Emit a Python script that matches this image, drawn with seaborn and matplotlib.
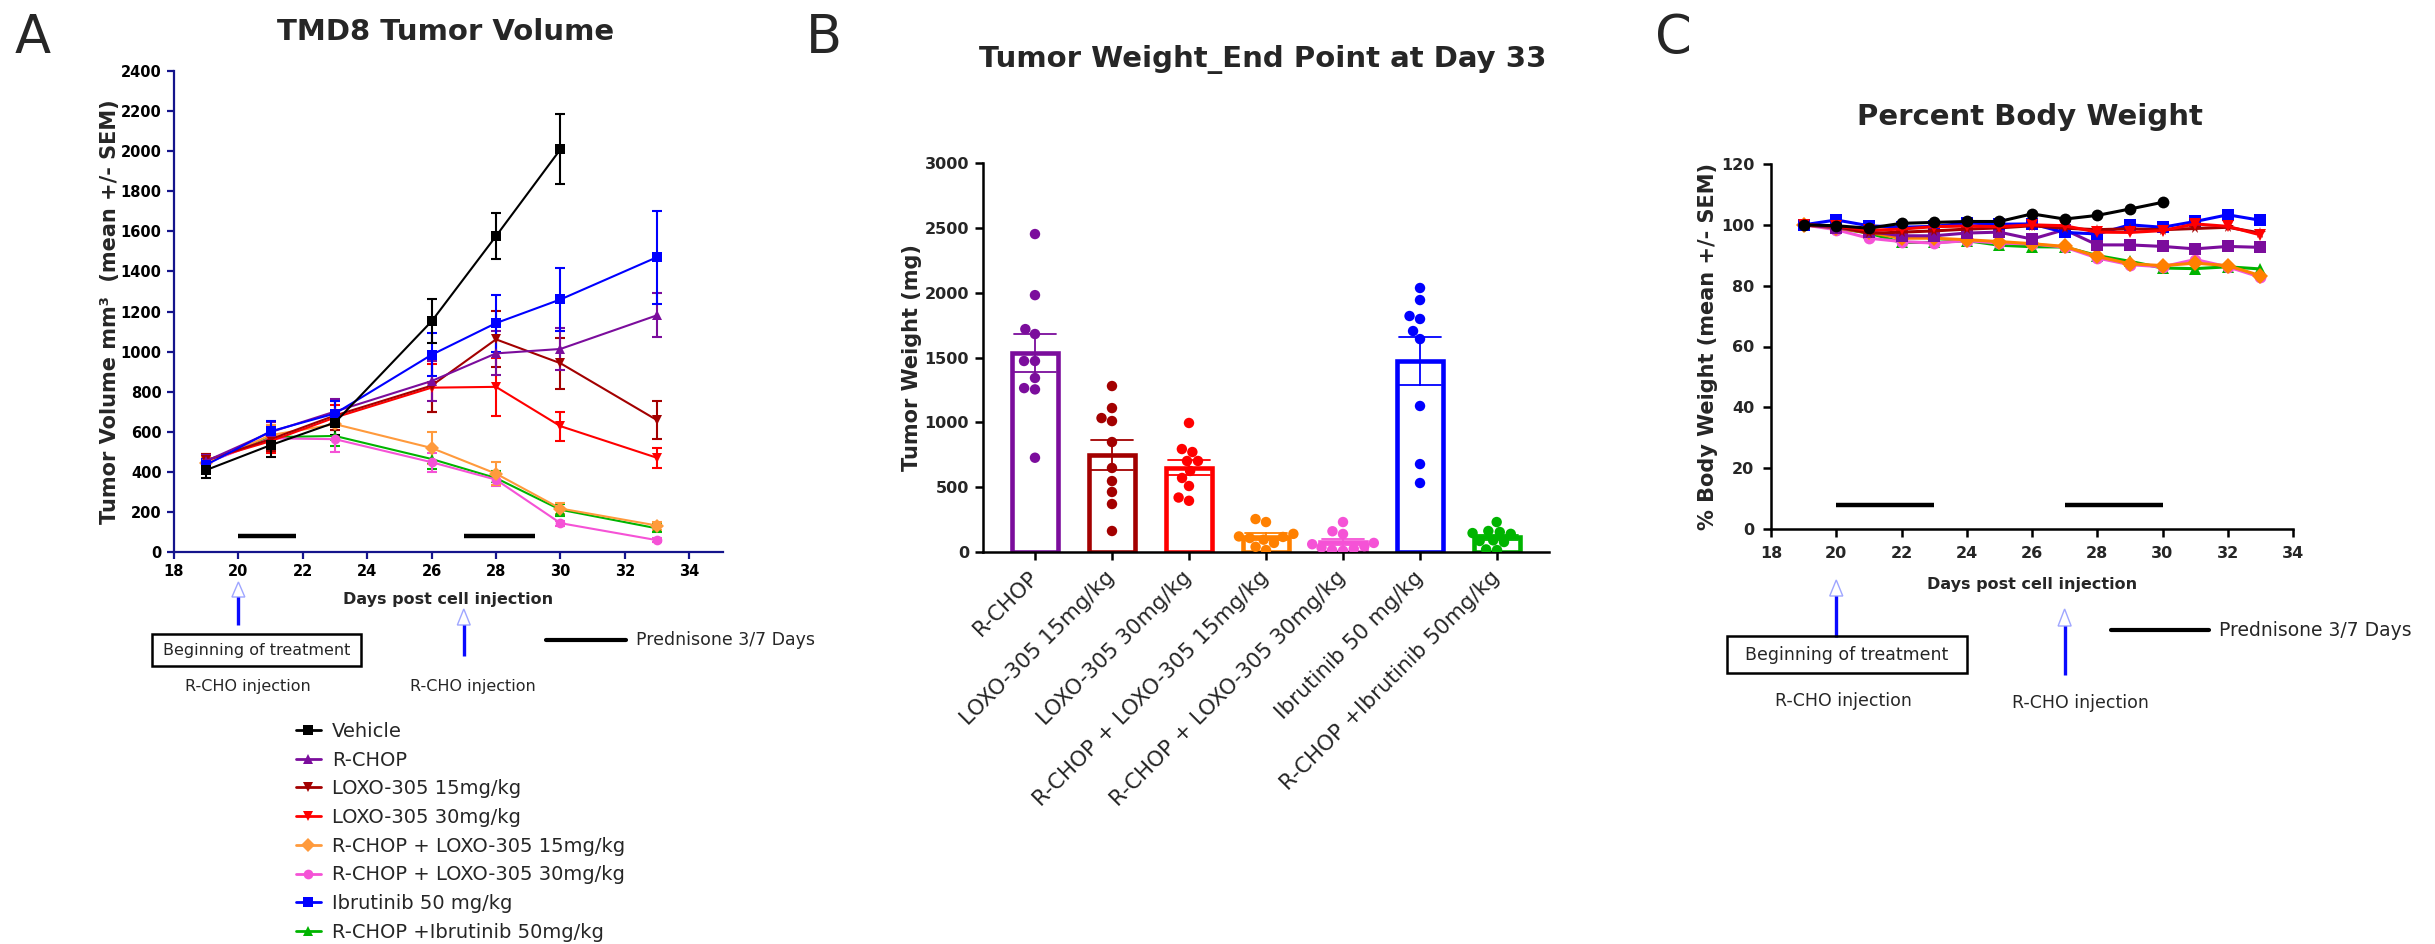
import numpy as np
import pandas as pd
import matplotlib
matplotlib.use("Agg")
import matplotlib.pyplot as plt
import matplotlib.transforms as mtransforms
from matplotlib.lines import Line2D
from matplotlib.patches import Rectangle
import seaborn as sns

W, H = 2435, 944

# group names
vehicle = "Vehicle"
rchop = "R-CHOP"
loxo15 = "LOXO-305 15mg/kg"
loxo30 = "LOXO-305 30mg/kg"
rl15 = "R-CHOP + LOXO-305 15mg/kg"
rl30 = "R-CHOP + LOXO-305 30mg/kg"
ibr = "Ibrutinib 50 mg/kg"
ribr = "R-CHOP +Ibrutinib 50mg/kg"

# ---- A: tumour volume, mean and SEM ----
days_a = [19, 21, 23, 26, 28, 30, 33]
vol_vehicle = [409, 533, 646, 1151, 1576, 2009]
sem_vehicle = [40, 60, 60, 110, 115, 175]
vol_rchop = [454, 598, 701, 853, 991, 1013, 1181]
sem_rchop = [30, 50, 60, 100, 110, 107, 109]
vol_loxo15 = [458, 563, 681, 830, 1061, 942, 658]
sem_loxo15 = [30, 60, 70, 130, 140, 128, 93]
vol_loxo30 = [458, 553, 671, 820, 824, 628, 470]
sem_loxo30 = [30, 60, 60, 120, 143, 73, 50]
vol_rl15 = [444, 583, 638, 519, 391, 217, 132]
sem_rl15 = [30, 50, 60, 80, 57, 25, 20]
vol_rl30 = [444, 567, 563, 448, 361, 144, 59]
sem_rl30 = [30, 50, 65, 47, 30, 12, 10]
vol_ibr = [435, 602, 691, 984, 1142, 1260, 1471]
sem_ibr = [30, 50, 60, 107, 142, 158, 232]
vol_ribr = [444, 573, 579, 464, 369, 211, 118]
sem_ribr = [30, 50, 50, 50, 35, 30, 20]

# prednisone bars (days) drawn inside A and C
pred_a = [(20, 21.8), (27, 29.2)]
pred_a_level = 80
pred_c = [(20, 23), (27, 30)]
pred_c_level = 8

# ---- B: tumour weight at day 33 (individual mice) ----
mg_rchop = [2452, 1981, 1719, 1681, 1473, 1473, 1342, 1264, 1254, 727]
mg_loxo15 = [1280, 1110, 1033, 1010, 848, 648, 547, 463, 370, 162]
mg_loxo30 = [995, 794, 771, 702, 702, 625, 571, 509, 420, 395]
mg_rl15 = [254, 231, 140, 120, 116, 108, 95, 70, 40, 15]
mg_rl30 = [231, 160, 139, 70, 60, 45, 35, 25, 15, 10]
mg_ibr = [2036, 1943, 1820, 1797, 1704, 1642, 1126, 678, 532]
mg_ribr = [231, 162, 154, 146, 140, 90, 85, 77, 20, 15]

# ---- C: percent body weight ----
days_c = list(range(19, 34))
bw_vehicle = [100, 99.7, 98.9, 100.5, 100.8, 101.1, 101.1, 103.6, 101.9, 103.1, 105.2, 107.4]
bw_ibr = [100, 101.6, 99.7, 99.2, 99.5, 100.6, 100.2, 100.3, 97.5, 97.0, 100.0, 99.2, 101.1, 103.3, 101.5]
bw_rchop = [100, 99.0, 97.8, 96.4, 96.4, 97.3, 97.6, 95.3, 98.4, 93.4, 93.4, 92.9, 92.1, 92.9, 92.6]
bw_loxo15 = [100, 99.5, 97.2, 97.6, 98.0, 98.6, 99.0, 99.7, 98.9, 98.4, 98.7, 98.4, 98.8, 99.2, 97.3]
bw_loxo30 = [100, 99.6, 98.2, 98.6, 99.4, 99.6, 99.4, 100.0, 99.7, 97.6, 97.5, 98.1, 100.3, 99.5, 96.7]
bw_rl15 = [100, 98.9, 97.5, 95.6, 95.6, 95.1, 94.5, 93.8, 92.9, 89.6, 87.2, 86.6, 87.4, 86.6, 83.3]
bw_rl30 = [100, 98.4, 95.6, 94.5, 94.0, 94.8, 94.0, 93.7, 92.7, 89.1, 86.9, 86.2, 88.6, 86.2, 82.8]
bw_ribr = [100, 98.9, 97.3, 94.2, 94.2, 94.8, 93.3, 92.8, 92.7, 89.9, 88.0, 85.8, 85.6, 86.2, 85.5]

colors = {vehicle: "#000000", rchop: "#7b0d9c", loxo15: "#a30000", loxo30: "#ff0000",
          rl15: "#ff8000", rl30: "#f552d6", ibr: "#0000ff", ribr: "#00b400"}
colors_a = dict(colors)
colors_a[rl15] = "#ff9a3c"
markers_a = {vehicle: "s", rchop: "^", loxo15: "v", loxo30: "v",
             rl15: "D", rl30: "o", ibr: "s", ribr: "^"}
markers_c = {vehicle: "o", rchop: "s", loxo15: "*", loxo30: "v",
             rl15: "D", rl30: "o", ibr: "s", ribr: "^"}

legend_order = [vehicle, rchop, loxo15, loxo30, rl15, rl30, ibr, ribr]
draw_a = [ribr, rl30, rl15, loxo30, loxo15, rchop, ibr, vehicle]
draw_c = [ribr, rl30, rl15, rchop, ibr, loxo15, loxo30, vehicle]

vol = {vehicle: (vol_vehicle, sem_vehicle), rchop: (vol_rchop, sem_rchop),
       loxo15: (vol_loxo15, sem_loxo15), loxo30: (vol_loxo30, sem_loxo30),
       rl15: (vol_rl15, sem_rl15), rl30: (vol_rl30, sem_rl30),
       ibr: (vol_ibr, sem_ibr), ribr: (vol_ribr, sem_ribr)}
weights = {rchop: mg_rchop, loxo15: mg_loxo15, loxo30: mg_loxo30, rl15: mg_rl15,
           rl30: mg_rl30, ibr: mg_ibr, ribr: mg_ribr}
bw = {vehicle: bw_vehicle, rchop: bw_rchop, loxo15: bw_loxo15, loxo30: bw_loxo30,
      rl15: bw_rl15, rl30: bw_rl30, ibr: bw_ibr, ribr: bw_ribr}
groups_b = [rchop, loxo15, loxo30, rl15, rl30, ibr, ribr]

rows = []
for g, (v, s) in vol.items():
    for d, vv, ss in zip(days_a, v, s):
        rows.append((g, d, vv, ss))
df_a = pd.DataFrame(rows, columns=["group", "day", "vol", "sem"])
df_b = pd.DataFrame([(g, m) for g in groups_b for m in weights[g]], columns=["group", "mg"])
df_c = pd.DataFrame([(g, d, p) for g, vals in bw.items() for d, p in zip(days_c, vals)],
                    columns=["group", "day", "pct"])

sns.set_style("ticks")
plt.rcParams["font.family"] = ["DejaVu Sans"]

fig = plt.figure(figsize=(W / 100, H / 100), dpi=100)


def fx(px):
    return px / W


def fy(py):
    return 1 - py / H


def bold_ticks(ax, size):
    for lab in ax.get_xticklabels() + ax.get_yticklabels():
        lab.set_fontweight("bold")
        lab.set_fontsize(size)


navy = "#14148c"

# ---------------- A ----------------
axA = fig.add_axes([fx(174), fy(552), fx(723) - fx(174), fy(71) - fy(552)])
for g in draw_a:
    v, s = vol[g]
    axA.errorbar(days_a[:len(v)], v, yerr=s, fmt="none", ecolor=colors_a[g],
                 elinewidth=1.5, capsize=3.5, capthick=1.5, zorder=2)
sns.lineplot(data=df_a, x="day", y="vol", hue="group", style="group",
             hue_order=draw_a, style_order=draw_a, palette=colors_a, markers=markers_a,
             dashes=False, markersize=7, markeredgewidth=0, linewidth=1.5,
             errorbar=None, legend=False, ax=axA, zorder=3)
for a, b in pred_a:
    axA.plot([a, b], [pred_a_level] * 2, color="black", lw=3.2, solid_capstyle="butt")
axA.set_xlim(18, 35.05)
axA.set_ylim(0, 2400)
axA.set_xticks(range(18, 35, 2))
axA.set_yticks(range(0, 2401, 200))
sns.despine(ax=axA)
for sp in ["left", "bottom"]:
    axA.spines[sp].set_color(navy)
    axA.spines[sp].set_linewidth(1.6)
axA.tick_params(color=navy, labelcolor="black", width=1.6, length=5, pad=4)
bold_ticks(axA, 10.5)
axA.set_xlabel("Days post cell injection", fontsize=11.5, fontweight="bold")
axA.xaxis.set_label_coords(0.5, -0.098)
axA.xaxis.label.set_va("center")
axA.set_ylabel("Tumor Volume mm³  (mean +/- SEM)", fontsize=15, fontweight="bold")
axA.yaxis.set_label_coords(-0.117, 0.5)
axA.yaxis.label.set_va("center")

handles = [Line2D([], [], color=colors_a[g], marker=markers_a[g], markersize=7,
                  markeredgewidth=0, lw=2) for g in legend_order]
axA.legend(handles, legend_order, loc="upper left", bbox_to_anchor=(fx(288), fy(714)),
           bbox_transform=fig.transFigure, frameon=False, fontsize=14,
           handlelength=1.3, handletextpad=0.55, labelspacing=0.5, borderaxespad=0)

# ---------------- B ----------------
axB = fig.add_axes([fx(983), fy(552), fx(1549) - fx(983), fy(163) - fy(552)])
for g in groups_b:
    sns.barplot(data=df_b[df_b["group"] == g], x="group", y="mg", order=groups_b,
                errorbar="se", fill=False, color=colors[g], linewidth=3.3, width=0.6,
                capsize=0.55, err_kws={"color": colors[g], "linewidth": 1.3}, ax=axB)
sns.swarmplot(data=df_b, x="group", y="mg", hue="group", order=groups_b,
              hue_order=groups_b, palette=colors, size=7.5, linewidth=0,
              legend=False, ax=axB, zorder=4)
axB.set_xlim(-0.675, 6.675)
axB.set_ylim(0, 3000)
axB.set_yticks(range(0, 3001, 500))
sns.despine(ax=axB)
for sp in ["left", "bottom"]:
    axB.spines[sp].set_color("black")
    axB.spines[sp].set_linewidth(1.8)
axB.tick_params(color="black", width=1.8, length=6, pad=4)
axB.set_xticks(range(len(groups_b)))
axB.set_xticklabels(groups_b, rotation=45, ha="right", va="center",
                    rotation_mode="anchor", fontsize=15.5)
for lab in axB.get_yticklabels():
    lab.set_fontweight("bold")
    lab.set_fontsize(11.5)
axB.tick_params(axis="x", pad=10)
axB.set_xlabel("")
axB.set_ylabel("Tumor Weight (mg)", fontsize=15, fontweight="bold")
axB.yaxis.set_label_coords(-0.125, 0.5)
axB.yaxis.label.set_va("center")

# ---------------- C ----------------
axC = fig.add_axes([fx(1771), fy(529), fx(2293) - fx(1771), fy(164) - fy(529)])
sns.lineplot(data=df_c, x="day", y="pct", hue="group", style="group",
             hue_order=draw_c, style_order=draw_c, palette=colors, markers=markers_c,
             dashes=False, markersize=8.5, markeredgewidth=0, linewidth=2.2,
             errorbar=None, legend=False, ax=axC)
for a, b in pred_c:
    axC.plot([a, b], [pred_c_level] * 2, color="black", lw=3.2, solid_capstyle="butt")
axC.set_xlim(18, 34)
axC.set_ylim(0, 120)
axC.set_xticks(range(18, 35, 2))
axC.set_yticks(range(0, 121, 20))
sns.despine(ax=axC)
for sp in ["left", "bottom"]:
    axC.spines[sp].set_color("black")
    axC.spines[sp].set_linewidth(1.8)
axC.tick_params(color="black", width=1.8, length=6, pad=6)
bold_ticks(axC, 11.5)
axC.set_xlabel("Days post cell injection", fontsize=11.5, fontweight="bold")
axC.xaxis.set_label_coords(0.5, -0.151)
axC.xaxis.label.set_va("center")
axC.set_ylabel("% Body Weight (mean +/- SEM)", fontsize=15, fontweight="bold")
axC.yaxis.set_label_coords(-0.121, 0.5)
axC.yaxis.label.set_va("center")

# ---------------- titles / panel letters ----------------
title_kw = dict(ha="center", va="center", fontsize=21, fontweight="bold")
fig.text(fx(446), fy(32), "TMD8 Tumor Volume", **title_kw)
fig.text(fx(1263), fy(60), "Tumor Weight_End Point at Day 33", **title_kw)
fig.text(fx(2030), fy(117), "Percent Body Weight", **title_kw)
for px, py, s in [(15, 12, "A"), (806, 12, "B"), (1655, 12, "C")]:
    fig.text(fx(px), fy(py), s, ha="left", va="top", fontsize=38)


# ---------------- treatment annotations ----------------
def arrow(ax, day, head_top, head_bot, stem_bot):
    tr = mtransforms.blended_transform_factory(ax.transData, fig.transFigure)
    ax.plot([day, day], [fy(head_bot), fy(stem_bot)], transform=tr, color="#0a0aff",
            lw=2.4, clip_on=False, solid_capstyle="butt")
    hw = 0.2
    ax.fill([day - hw, day + hw, day], [fy(head_bot), fy(head_bot), fy(head_top)],
            transform=tr, facecolor="white", edgecolor="#9fa6ff", lw=1, clip_on=False)


def notes(ax, d1, d2, box, rcho1, rcho2, pline, fs):
    arrow(ax, 20, *d1)
    arrow(ax, 27, *d2)
    x0, y0, x1, y1 = box
    fig.add_artist(Rectangle((fx(x0), fy(y1)), fx(x1) - fx(x0), fy(y0) - fy(y1),
                             transform=fig.transFigure, fill=False, ec="black", lw=1.8))
    fig.text(fx((x0 + x1) / 2), fy((y0 + y1) / 2), "Beginning of treatment",
             ha="center", va="center", fontsize=fs)
    for cx, cy in (rcho1, rcho2):
        fig.text(fx(cx), fy(cy), "R-CHO injection", ha="center", va="center", fontsize=fs)
    lx0, lx1, ly = pline
    fig.add_artist(Line2D([fx(lx0), fx(lx1)], [fy(ly)] * 2, transform=fig.transFigure,
                          color="black", lw=3))
    fig.text(fx(lx1 + 10), fy(ly), "Prednisone 3/7 Days", ha="left", va="center",
             fontsize=fs + 1)


notes(axA, (582, 597, 625), (609, 625, 656), (152, 634, 361, 666),
      (248, 687), (473, 687), (546, 626, 640), 11.5)
notes(axC, (580, 596, 637), (609, 626, 675), (1727, 636, 1967, 673),
      (1843, 701), (2080, 703), (2111, 2209, 630), 12.5)

fig.savefig("out.png", dpi=100)
